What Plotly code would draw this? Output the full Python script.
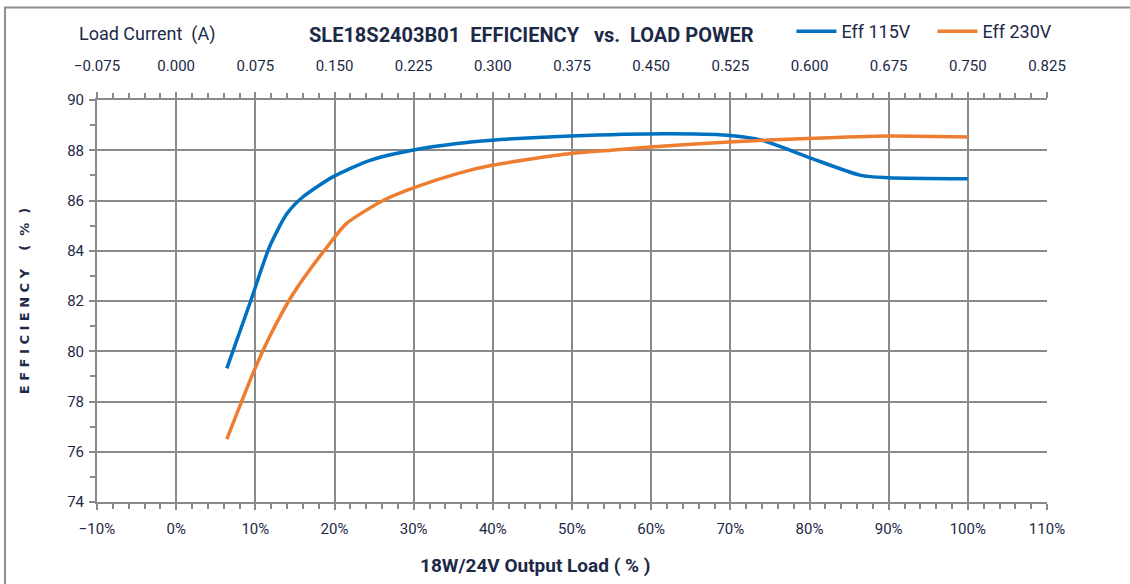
import plotly.graph_objects as go

# output load (fraction of 18W) and efficiency (%)
load_115 = [0.064, 0.093, 0.118, 0.140, 0.160, 0.198, 0.245, 0.298, 0.355, 0.399, 0.498, 0.620, 0.696, 0.740, 0.798, 0.865, 0.899, 1.000]
eff_115 = [79.32, 81.90, 84.16, 85.48, 86.14, 86.94, 87.60, 88.00, 88.27, 88.40, 88.57, 88.66, 88.60, 88.40, 87.73, 87.00, 86.91, 86.87]

load_230 = [0.064, 0.097, 0.118, 0.148, 0.194, 0.215, 0.262, 0.298, 0.355, 0.399, 0.498, 0.549, 0.599, 0.698, 0.798, 0.899, 1.000]
eff_230 = [76.50, 79.12, 80.58, 82.30, 84.29, 85.08, 86.01, 86.48, 87.07, 87.40, 87.87, 88.00, 88.13, 88.33, 88.47, 88.57, 88.53]

full_load_current = 0.75  # 18W / 24V

FONT = "Roboto, sans-serif"
TXT = "#1c2947"
GRID = "#8a8a8a"

fig = go.Figure()
fig.add_trace(go.Scatter(x=load_115, y=eff_115, name="Eff 115V", mode="lines",
                         line=dict(color="#0070c0", width=3.5, shape="spline", smoothing=0.7)))
fig.add_trace(go.Scatter(x=load_230, y=eff_230, name="Eff 230V", mode="lines",
                         line=dict(color="#ed7d31", width=3.5, shape="spline", smoothing=0.7)))
# same data against load current, only to carry the top axis
fig.add_trace(go.Scatter(x=[v * full_load_current for v in load_115], y=eff_115, xaxis="x2",
                         mode="lines", opacity=0, showlegend=False, hoverinfo="skip"))

axis_common = dict(showline=True, linecolor=GRID, linewidth=2, gridcolor=GRID, gridwidth=1.5,
                   ticks="outside", tickcolor=GRID, ticklen=6, tickwidth=1.5,
                   tickfont=dict(family=FONT, size=15, color=TXT), zeroline=False)

fig.update_layout(
    width=1130, height=584,
    margin=dict(l=97, r=83, t=100, b=82, autoexpand=False),
    plot_bgcolor="white", paper_bgcolor="white",
    font=dict(family=FONT, color=TXT),
    xaxis=dict(range=[-0.1, 1.1], dtick=0.1, tick0=0, tickformat=".0%",
               ticklabelstandoff=6,
               minor=dict(dtick=0.02, ticks="outside", ticklen=5, tickcolor=GRID, showgrid=False),
               **axis_common),
    xaxis2=dict(range=[-0.1 * full_load_current, 1.1 * full_load_current], dtick=0.075, tick0=0,
                tickformat=".3f", overlaying="x", side="top", showgrid=False,
                ticklabelstandoff=15,
                minor=dict(dtick=0.015, ticks="outside", ticklen=5, tickcolor=GRID),
                **axis_common),
    yaxis=dict(range=[74, 90], dtick=2, ticklabelstandoff=2,
               minor=dict(dtick=1, ticks="outside", ticklen=5, tickcolor=GRID, showgrid=False),
               title=dict(text="<b>E F F I C I E N C Y    (  %  )</b>", font=dict(family="DejaVu Sans", size=13, color=TXT), standoff=35),
               **axis_common),
    legend=dict(orientation="h", x=0.731, y=1.17, xanchor="left", yanchor="middle",
                font=dict(family=FONT, size=18, color=TXT), itemwidth=40, entrywidth=86,
                tracegroupgap=0, bgcolor="rgba(0,0,0,0)"),
    showlegend=True,
)

fig.add_annotation(text="<b>SLE18S2403B01  EFFICIENCY   vs.  LOAD POWER</b>", xref="paper", yref="paper",
                   x=0.457, y=1.197, showarrow=False, font=dict(family=FONT, size=20, color=TXT))
fig.add_annotation(text="Load Current  (A)", xref="paper", yref="paper",
                   x=-0.021, y=1.197, xanchor="left", showarrow=False, font=dict(family=FONT, size=18, color=TXT))
fig.add_annotation(text="<b>18W/24V Output Load ( % )</b>", xref="paper", yref="paper",
                   x=0.461, y=-0.159, yanchor="middle", showarrow=False, font=dict(family=FONT, size=19, color=TXT))

# outer chart frame
fig.add_shape(type="rect", xref="paper", yref="paper", x0=-0.0968, x1=1.2, y0=-0.4, y1=1.2304,
              line=dict(color="#8c8c8c", width=2), layer="below")

fig.write_html("out.html", config={"displayModeBar": False},
               post_script="document.body.style.margin='0';")
